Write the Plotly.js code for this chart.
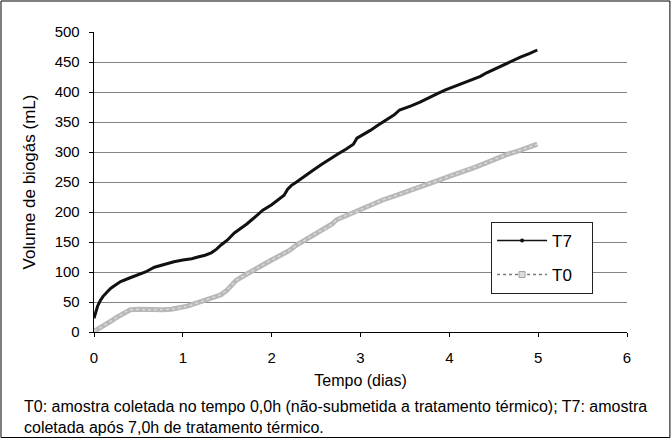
<!DOCTYPE html>
<html><head><meta charset="utf-8">
<script src="https://cdn.plot.ly/plotly-3.0.1.min.js"></script>
<style>html,body{margin:0;padding:0;background:#fff}#chart{width:671px;height:439px}</style>
</head><body><div id="chart"></div>
<script>
const t7Days = [0,0.02,0.04,0.07,0.10,0.15,0.19,0.25,0.30,0.40,0.49,0.58,0.68,0.79,0.90,1.00,1.10,1.17,1.25,1.32,1.38,1.43,1.50,1.58,1.65,1.72,1.80,1.90,2.00,2.09,2.14,2.18,2.22,2.28,2.37,2.47,2.56,2.65,2.75,2.84,2.92,2.96,3.05,3.11,3.20,3.29,3.38,3.44,3.48,3.57,3.67,3.76,3.86,3.95,4.05,4.15,4.25,4.35,4.42,4.52,4.61,4.70,4.80,4.90,4.99];
const t7Volume = [23,35,43,52,59,67,73,79,84,90,95,100,108,113,117,120,122,125,128,132,138,145,153,165,172,180,190,203,212,223,228,238,244,250,260,270,279,288,297,305,313,323,330,336,345,354,362,370,372,377,383,390,397,403,409,415,420,426,432,439,446,452,458,464,470];
const t0Days = [0,0.05,0.10,0.15,0.20,0.25,0.30,0.36,0.41,0.50,0.60,0.68,0.78,0.87,0.96,1.05,1.15,1.24,1.33,1.43,1.50,1.54,1.60,1.70,1.80,1.90,2.00,2.10,2.20,2.28,2.40,2.50,2.60,2.68,2.73,2.85,2.95,3.03,3.15,3.25,3.41,3.55,3.67,3.78,3.90,4.03,4.16,4.28,4.40,4.53,4.65,4.78,4.90,4.99];
const t0Volume = [1,5,10,14.5,19,24,28,34,37,38,37,37,37,38,40,43,48,53,57,62,70,76,86,95,104,112,120,128,136,145,155,165,172,180,187,195,200,206,214,220,228,236,242,248,254,261,267,274,281,289,296,302,308,313];
const seriesNames = ['T7','T0'];
const yTicks = [0,50,100,150,200,250,300,350,400,450,500];
const xTicks = [0,1,2,3,4,5,6];
const xTitle = 'Tempo (dias)';
const yTitle = 'Volume de biogás (mL)';
const caption = 'T0: amostra coletada no tempo 0,0h (não-submetida a tratamento térmico); T7: amostra<br>coletada após 7,0h de tratamento térmico.';

const FONT = 'Arial';
const pad = '\u00a0\u00a0\u00a0';
const traces = [
  {x:t7Days, y:t7Volume, mode:'lines', line:{color:'#111', width:3}, showlegend:false, hoverinfo:'skip'},
  {x:t0Days, y:t0Volume, mode:'lines', line:{color:'#b8b8b8', width:5}, showlegend:false, hoverinfo:'skip'},
  {x:t0Days, y:t0Volume, mode:'lines', line:{color:'#dadada', width:1.5, dash:'dot'}, showlegend:false, hoverinfo:'skip'},
  {x:[null], y:[null], name:seriesNames[0] + pad, mode:'lines+markers', legendgroup:'a',
   line:{color:'#111', width:1.5}, marker:{symbol:'circle', size:4, color:'#111'}},
  {x:[null], y:[null], name:seriesNames[1] + pad, mode:'lines+markers', legendgroup:'b',
   line:{color:'#777', width:1.5, dash:'dot'}, marker:{symbol:'square', size:6, color:'#dcdcdc', line:{color:'#a0a0a0', width:1}}}
];
const layout = {
  width:671, height:439,
  margin:{l:94, r:44, t:32, b:107},
  paper_bgcolor:'#fff', plot_bgcolor:'#fff',
  font:{family:FONT, size:15, color:'#000'},
  showlegend:true,
  legend:{x:0.745, y:0.367, xanchor:'left', yanchor:'top', bgcolor:'#fff', bordercolor:'#222', borderwidth:1,
    font:{family:FONT, size:17, color:'#000'}, traceorder:'grouped', tracegroupgap:9, itemwidth:50},
  xaxis:{range:[0,6], tickvals:xTicks, ticktext:xTicks.map(String), showgrid:false, zeroline:false,
    showline:true, linecolor:'#000', linewidth:1.3, ticks:'outside', ticklen:4, tickcolor:'#000',
    ticklabelstandoff:8, tickfont:{family:FONT, size:15},
    title:{text:xTitle, font:{family:FONT, size:16}, standoff:9}},
  yaxis:{range:[0,500], tickvals:yTicks, ticktext:yTicks.map(String), showgrid:true, gridcolor:'#858585', gridwidth:1,
    zeroline:false, showline:true, linecolor:'#000', linewidth:1.3, ticks:'outside', ticklen:4, tickcolor:'#000',
    ticklabelstandoff:6, tickfont:{family:FONT, size:15},
    title:{text:yTitle, font:{family:FONT, size:17}, standoff:14}},
  shapes:[{type:'rect', xref:'paper', yref:'paper', x0:-0.1745, x1:1.0805, y0:-0.3517, y1:1.1033,
    line:{color:'#000', width:1}, fillcolor:'rgba(0,0,0,0)', layer:'above'}],
  annotations:[{xref:'paper', yref:'paper', x:-0.135, y:-0.212, xanchor:'left', yanchor:'top', align:'left',
    showarrow:false, text:caption, font:{family:FONT, size:16, color:'#000'}}]
};
Plotly.newPlot('chart', traces, layout, {staticPlot:true, displayModeBar:false});
</script></body></html>
